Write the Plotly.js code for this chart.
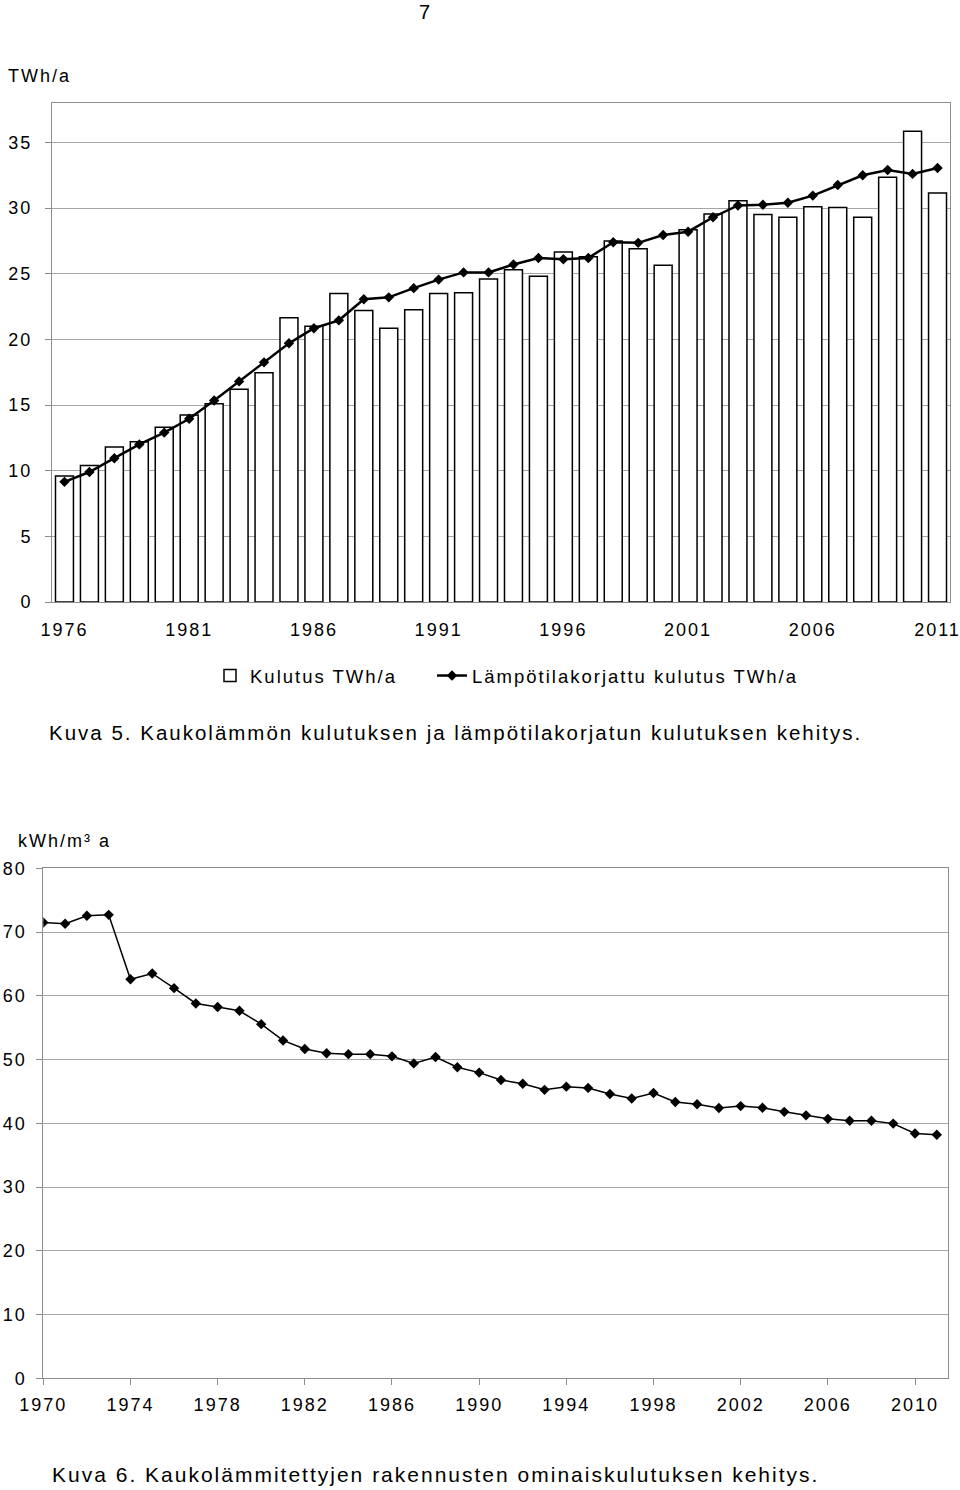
<!DOCTYPE html>
<html>
<head>
<meta charset="utf-8">
<script src="https://cdn.plot.ly/plotly-3.0.1.min.js"></script>
<style>
  html, body { margin: 0; padding: 0; background: #fff; }
  text { letter-spacing: 2px; }
</style>
</head>
<body>
<div id="plot" style="width:960px;height:1490px;"></div>
<script>
// ---- Chart 1: Kaukolämmön kulutus ----
const years1 = [1976,1977,1978,1979,1980,1981,1982,1983,1984,1985,1986,1987,1988,1989,1990,1991,1992,1993,1994,1995,1996,1997,1998,1999,2000,2001,2002,2003,2004,2005,2006,2007,2008,2009,2010,2011];
const kulutus = [9.6,10.4,11.8,12.2,13.3,14.25,15.1,16.2,17.45,21.65,21.0,23.5,22.2,20.85,22.25,23.5,23.55,24.6,25.3,24.8,26.65,26.3,27.5,26.9,25.65,28.35,29.55,30.55,29.5,29.3,30.1,30.05,29.3,32.35,35.85,31.15];
const korjattu = [9.15,9.9,10.95,12.0,12.9,13.95,15.35,16.8,18.25,19.7,20.85,21.45,23.05,23.2,23.9,24.55,25.1,25.1,25.7,26.2,26.1,26.2,27.4,27.35,27.95,28.2,29.3,30.2,30.25,30.4,30.95,31.75,32.5,32.9,32.6,33.05];
const ticks1 = [1976,1981,1986,1991,1996,2001,2006,2011];
const yticks1 = [0,5,10,15,20,25,30,35];

// ---- Chart 2: Ominaiskulutus ----
const years2 = [1970,1971,1972,1973,1974,1975,1976,1977,1978,1979,1980,1981,1982,1983,1984,1985,1986,1987,1988,1989,1990,1991,1992,1993,1994,1995,1996,1997,1998,1999,2000,2001,2002,2003,2004,2005,2006,2007,2008,2009,2010,2011];
const ominais = [71.5,71.3,72.55,72.7,62.6,63.5,61.2,58.8,58.25,57.65,55.55,53.0,51.65,51.0,50.85,50.85,50.5,49.4,50.4,48.8,47.95,46.8,46.2,45.25,45.75,45.55,44.6,43.9,44.75,43.35,43.0,42.4,42.7,42.45,41.8,41.25,40.7,40.4,40.4,39.95,38.4,38.2];
const ticks2 = [1970,1974,1978,1982,1986,1990,1994,1998,2002,2006,2010];
const yticks2 = [0,10,20,30,40,50,60,70,80];

const FONT = 'Liberation Sans, Arial, sans-serif';
const W = 960, H = 1490;
const px = v => v / W;
const py = v => 1 - v / H;

const traces = [
  {
    type: 'bar', x: years1, y: kulutus, name: 'Kulutus TWh/a', legendwidth: 177,
    marker: {color: '#ffffff', line: {color: '#000000', width: 1.5}},
    xaxis: 'x', yaxis: 'y', hoverinfo: 'x+y'
  },
  {
    type: 'scatter', mode: 'lines+markers', x: years1, y: korjattu,
    name: 'Lämpötilakorjattu kulutus TWh/a', legendwidth: 360,
    line: {color: '#000000', width: 2.5},
    marker: {symbol: 'diamond', size: 8, color: '#000000'},
    xaxis: 'x', yaxis: 'y'
  },
  {
    type: 'scatter', mode: 'lines+markers', x: years2, y: ominais,
    name: 'kWh/m³ a', showlegend: false,
    line: {color: '#000000', width: 1.5},
    marker: {symbol: 'diamond', size: 8, color: '#000000'},
    xaxis: 'x2', yaxis: 'y2'
  }
];

const layout = {
  width: W, height: H,
  margin: {l: 0, r: 0, t: 0, b: 0},
  paper_bgcolor: '#ffffff', plot_bgcolor: '#ffffff',
  font: {family: FONT, size: 18, color: '#000000'},
  bargap: 0.28,
  showlegend: true,
  legend: {
    orientation: 'h', x: px(210), y: py(657), xanchor: 'left', yanchor: 'top',
    font: {family: FONT, size: 18.5, color: '#000'},
    bgcolor: 'rgba(0,0,0,0)'
  },
  xaxis: {
    domain: [px(52), px(950)], range: [1975.5, 2011.5],
    tickmode: 'array', tickvals: ticks1, ticks: '', ticklabeloverflow: 'allow',
    showline: true, mirror: true, linecolor: '#8c8c8c', linewidth: 1,
    showgrid: false, zeroline: false, ticklabelstandoff: 11,
    tickfont: {family: FONT, size: 18}, anchor: 'y'
  },
  yaxis: {
    domain: [py(602), py(103)], range: [0, 38],
    tickmode: 'array', tickvals: yticks1, ticks: 'outside', ticklen: 6, tickcolor: '#8c8c8c',
    showline: true, mirror: true, linecolor: '#8c8c8c', linewidth: 1,
    showgrid: true, gridcolor: '#a6a6a6', gridwidth: 1, zeroline: false,
    ticklabelstandoff: 9, tickfont: {family: FONT, size: 18}, anchor: 'x'
  },
  xaxis2: {
    domain: [px(43.3), px(947.7)], range: [1970, 2011.5],
    tickmode: 'array', tickvals: ticks2, ticks: 'outside', ticklen: 6, tickcolor: '#8c8c8c',
    ticklabeloverflow: 'allow',
    showline: true, mirror: true, linecolor: '#8c8c8c', linewidth: 1,
    showgrid: false, zeroline: false, ticklabelstandoff: 4,
    tickfont: {family: FONT, size: 18}, anchor: 'y2'
  },
  yaxis2: {
    domain: [py(1378.3), py(868.3)], range: [0, 80],
    tickmode: 'array', tickvals: yticks2, ticks: 'outside', ticklen: 6, tickcolor: '#8c8c8c',
    showline: true, mirror: true, linecolor: '#8c8c8c', linewidth: 1,
    showgrid: true, gridcolor: '#a6a6a6', gridwidth: 1, zeroline: false,
    ticklabelstandoff: 6, tickfont: {family: FONT, size: 18}, anchor: 'x2'
  },
  annotations: [
    {text: '7', x: px(425), y: py(12), xref: 'paper', yref: 'paper', xanchor: 'center', yanchor: 'middle', showarrow: false, font: {family: FONT, size: 20}},
    {text: 'TWh/a', x: px(6), y: py(76), xref: 'paper', yref: 'paper', xanchor: 'left', yanchor: 'middle', showarrow: false, font: {family: FONT, size: 18}},
    {text: 'Kuva 5. Kaukolämmön kulutuksen ja lämpötilakorjatun kulutuksen kehitys.', x: px(47), y: py(733), xref: 'paper', yref: 'paper', xanchor: 'left', yanchor: 'middle', showarrow: false, font: {family: FONT, size: 20.5}},
    {text: 'kWh/m³ a', x: px(16), y: py(841), xref: 'paper', yref: 'paper', xanchor: 'left', yanchor: 'middle', showarrow: false, font: {family: FONT, size: 18}},
    {text: 'Kuva 6. Kaukolämmitettyjen rakennusten ominaiskulutuksen kehitys.', x: px(50), y: py(1474), xref: 'paper', yref: 'paper', xanchor: 'left', yanchor: 'middle', showarrow: false, font: {family: FONT, size: 21}}
  ]
};

Plotly.newPlot('plot', traces, layout, {staticPlot: true, displayModeBar: false});
</script>
</body>
</html>
